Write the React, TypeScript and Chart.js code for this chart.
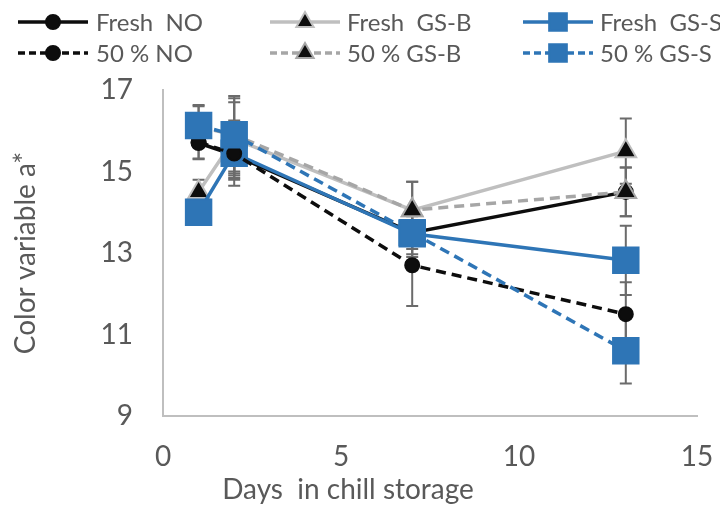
import React, { useEffect, useRef } from "react";
import { Chart, registerables } from "chart.js";

Chart.register(...registerables);

const days = [1, 2, 7, 13];
const seriesLabels = ["Fresh  NO", "Fresh  GS-B", "Fresh  GS-S", "50 % NO", "50 % GS-B", "50 % GS-S"];
const freshNO = [15.7, 15.4, 13.5, 14.5];
const freshGSB = [14.5, 15.8, 14.05, 15.5];
const freshGSS = [14.0, 15.45, 13.47, 12.82];
const halfNO = [15.72, 15.44, 12.7, 11.5];
const halfGSB = [16.1, 15.9, 14.05, 14.5];
const halfGSS = [16.13, 15.9, 13.5, 10.6];
const errFreshNO = [0.4, 0.6, 0.4, 0.6];
const errFreshGSB = [0.3, 0.9, 0.7, 0.8];
const errFreshGSS = [0.3, 0.8, 0.5, 0.85];
const errHalfNO = [0.4, 0.6, 1.0, 0.78];
const errHalfGSB = [0.5, 0.9, 0.7, 0.6];
const errHalfGSS = [0.5, 0.95, 0.6, 0.8];
const yTicks = [9, 11, 13, 15, 17];
const xTicks = [0, 5, 10, 15];
const xTitle = "Days  in chill storage";
const yTitle = "Color variable a*";

const FONT = "Lato, 'Liberation Sans', sans-serif";
const TXT = "#595959";
const BLUE = "#2E75B6";
const LGRAY = "#BFBFBF";
const MGRAY = "#A6A6A6";
const BLACK = "#0D0D0D";

const values = [freshNO, freshGSB, freshGSS, halfNO, halfGSB, halfGSS];
const errors = [errFreshNO, errFreshGSB, errFreshGSS, errHalfNO, errHalfGSB, errHalfGSS];

type Style = { color: string; dash: number[]; shape: string; fill: string; border: string; r: number; lr: number };
const DASH = [10, 6];
const styles: Style[] = [
  { color: BLACK, dash: [], shape: "circle", fill: BLACK, border: BLACK, r: 7, lr: 7 },
  { color: LGRAY, dash: [], shape: "triangle", fill: BLACK, border: LGRAY, r: 12, lr: 10 },
  { color: BLUE, dash: [], shape: "rect", fill: BLUE, border: BLUE, r: 18, lr: 12.5 },
  { color: BLACK, dash: DASH, shape: "circle", fill: BLACK, border: BLACK, r: 7, lr: 7 },
  { color: MGRAY, dash: DASH, shape: "triangle", fill: BLACK, border: MGRAY, r: 12, lr: 10 },
  { color: BLUE, dash: DASH, shape: "rect", fill: BLUE, border: BLUE, r: 18, lr: 12.5 },
];

function drawMarker(ctx: CanvasRenderingContext2D, s: Style, x: number, y: number, r: number) {
  ctx.save();
  ctx.setLineDash([]);
  ctx.fillStyle = s.fill;
  ctx.strokeStyle = s.border;
  ctx.lineWidth = 2;
  ctx.beginPath();
  if (s.shape === "circle") {
    ctx.arc(x, y, r, 0, Math.PI * 2);
  } else if (s.shape === "triangle") {
    const w = (r * Math.sqrt(3)) / 2;
    ctx.moveTo(x, y - r);
    ctx.lineTo(x + w, y + r / 2);
    ctx.lineTo(x - w, y + r / 2);
    ctx.closePath();
  } else {
    const h = r * Math.SQRT1_2;
    ctx.rect(x - h, y - h, 2 * h, 2 * h);
  }
  ctx.fill();
  ctx.stroke();
  ctx.restore();
}

const errorBarPlugin = {
  id: "errorBars",
  beforeDatasetsDraw(chart: any) {
    const ctx = chart.ctx as CanvasRenderingContext2D;
    const xs = chart.scales.x;
    const ys = chart.scales.y;
    ctx.save();
    ctx.strokeStyle = "#6B6B6B";
    ctx.lineWidth = 2;
    ctx.setLineDash([]);
    values.forEach((vals, i) => {
      vals.forEach((v, j) => {
        const e = errors[i][j];
        const px = xs.getPixelForValue(days[j]);
        const top = ys.getPixelForValue(v + e);
        const bot = ys.getPixelForValue(v - e);
        ctx.beginPath();
        ctx.moveTo(px, top);
        ctx.lineTo(px, bot);
        ctx.moveTo(px - 6, top);
        ctx.lineTo(px + 6, top);
        ctx.moveTo(px - 6, bot);
        ctx.lineTo(px + 6, bot);
        ctx.stroke();
      });
    });
    ctx.restore();
  },
};

const legendPlugin = {
  id: "customLegend",
  afterDraw(chart: any) {
    const ctx = chart.ctx as CanvasRenderingContext2D;
    const cols = [
      { x0: 18, x1: 88, tx: 96 },
      { x0: 270, x1: 340, tx: 347 },
      { x0: 523, x1: 593, tx: 600 },
    ];
    const rows = [22, 53];
    ctx.save();
    seriesLabels.forEach((label, i) => {
      const c = cols[i % 3];
      const y = rows[Math.floor(i / 3)];
      const s = styles[i];
      ctx.strokeStyle = s.color;
      ctx.lineWidth = 3.5;
      ctx.setLineDash(s.dash.length ? [7, 4] : []);
      ctx.beginPath();
      ctx.moveTo(c.x0, y);
      ctx.lineTo(c.x1, y);
      ctx.stroke();
      drawMarker(ctx, s, (c.x0 + c.x1) / 2, y, s.lr);
      ctx.setLineDash([]);
      ctx.fillStyle = TXT;
      ctx.font = `24px ${FONT}`;
      ctx.textBaseline = "middle";
      ctx.textAlign = "left";
      ctx.fillText(label, c.tx, y + 1);
    });
    ctx.font = `28px ${FONT}`;
    ctx.textAlign = "center";
    ctx.textBaseline = "middle";
    ctx.fillText(xTitle, 348, 490);
    ctx.restore();
  },
};

export default function App() {
  const ref = useRef<HTMLCanvasElement | null>(null);
  useEffect(() => {
    if (!ref.current) return;
    const datasets = values.map((vals, i) => {
      const s = styles[i];
      return {
        label: seriesLabels[i],
        data: vals.map((v, j) => ({ x: days[j], y: v })),
        borderColor: s.color,
        borderWidth: 3.5,
        borderDash: s.dash,
        pointStyle: s.shape,
        pointRadius: s.r,
        pointBackgroundColor: s.fill,
        pointBorderColor: s.border,
        pointBorderWidth: 2,
        fill: false,
        tension: 0,
        order: 5 - i,
      };
    });
    const chart = new Chart(ref.current, {
      type: "line",
      data: { datasets },
      plugins: [errorBarPlugin, legendPlugin],
      options: {
        animation: false,
        responsive: false,
        maintainAspectRatio: false,
        layout: { padding: { top: 90, right: 23, left: 9, bottom: 0 } },
        plugins: { legend: { display: false }, tooltip: { enabled: false } },
        scales: {
          x: {
            type: "linear",
            min: 0,
            max: 15,
            afterBuildTicks: (scale: any) => {
              scale.ticks = xTicks.map((v) => ({ value: v }));
            },
            afterFit: (scale: any) => {
              scale.height = 90;
              scale.paddingLeft = 0;
              scale.paddingRight = 0;
            },
            grid: { display: false, drawTicks: false },
            border: { display: true, color: LGRAY, width: 2 },
            ticks: { color: TXT, font: { size: 28, family: FONT }, padding: 24 },
          },
          y: {
            type: "linear",
            min: 9,
            max: 17,
            afterBuildTicks: (scale: any) => {
              scale.ticks = yTicks.map((v) => ({ value: v }));
            },
            afterFit: (scale: any) => {
              scale.width = 154;
              scale.paddingTop = 0;
              scale.paddingBottom = 0;
            },
            grid: { display: false, drawTicks: false },
            border: { display: true, color: LGRAY, width: 2 },
            ticks: { color: TXT, font: { size: 28, family: FONT }, padding: 30 },
            title: {
              display: true,
              text: yTitle,
              color: TXT,
              font: { size: 28, family: FONT },
              padding: { top: 0, bottom: 0 },
            },
          },
        },
      },
    } as any);
    return () => chart.destroy();
  }, []);
  return (
    <div style={{ position: "fixed", left: 0, top: 0, width: 720, height: 506, background: "#fff" }}>
      <canvas ref={ref} width={720} height={506} style={{ width: 720, height: 506, display: "block" }} />
    </div>
  );
}
